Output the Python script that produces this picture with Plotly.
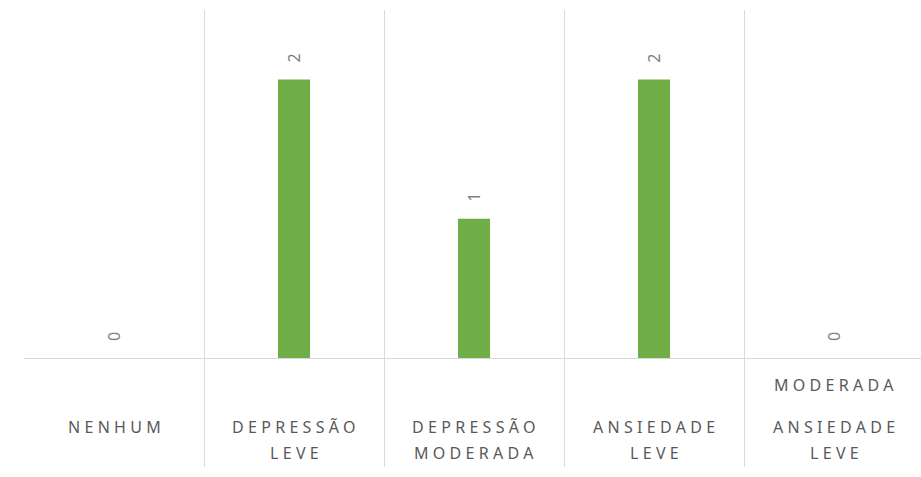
import plotly.graph_objects as go

categories = ["NENHUM", "DEPRESSÃO LEVE", "DEPRESSÃO MODERADA", "ANSIEDADE LEVE", "ANSIEDADE MODERADA"]
values = [0, 2, 1, 2, 0]
label_line0 = ["", "", "", "", "MODERADA"]
label_line1 = ["NENHUM", "DEPRESSÃO", "DEPRESSÃO", "ANSIEDADE", "ANSIEDADE"]
label_line2 = ["", "LEVE", "MODERADA", "LEVE", "LEVE"]

GREEN = "#70AD47"
GRID = "#d9d9d9"
LABEL = "#595959"
FONT = "Noto Sans"
SPACING = 4.3

fig = go.Figure()
fig.add_trace(go.Bar(x=categories, y=values, marker=dict(color=GREEN, line=dict(width=0)),
                     width=0.178, hoverinfo="skip"))

ann = []
for c, v in zip(categories, values):
    ann.append(dict(x=c, y=v, xref="x", yref="y", text=str(v), showarrow=False,
                    textangle=-90, xanchor="center", yanchor="middle", yshift=21,
                    font=dict(family=FONT, size=16, color="#7f7f7f")))

def spaced(t):
    return '<span style="letter-spacing:%.1fpx">' % SPACING + t + '</span>'

for c, l0, l1, l2 in zip(categories, label_line0, label_line1, label_line2):
    for txt, px in ((l0, 385), (l1, 427), (l2, 453)):
        if txt:
            ann.append(dict(x=c, y=0, xref="x", yref="y", text=spaced(txt), showarrow=False,
                            xanchor="center", yanchor="middle", yshift=-(px - 358),
                            xshift=SPACING / 2,
                            font=dict(family=FONT, size=16, color=LABEL)))

fig.update_layout(
    width=921, height=477,
    margin=dict(l=24, r=0, t=10, b=10),
    paper_bgcolor="white", plot_bgcolor="white",
    showlegend=False,
    annotations=ann,
    xaxis=dict(type="category", range=[-0.5, 4.483], showgrid=True, gridcolor=GRID, gridwidth=1,
               tickson="boundaries", showticklabels=False, ticks="", showline=False, zeroline=False,
               fixedrange=True),
    yaxis=dict(range=[-0.783, 2.5], showgrid=False, showticklabels=False, ticks="",
               zeroline=True, zerolinecolor=GRID, zerolinewidth=1, showline=False, fixedrange=True),
)

fig.write_html("out.html", config={"displayModeBar": False})
